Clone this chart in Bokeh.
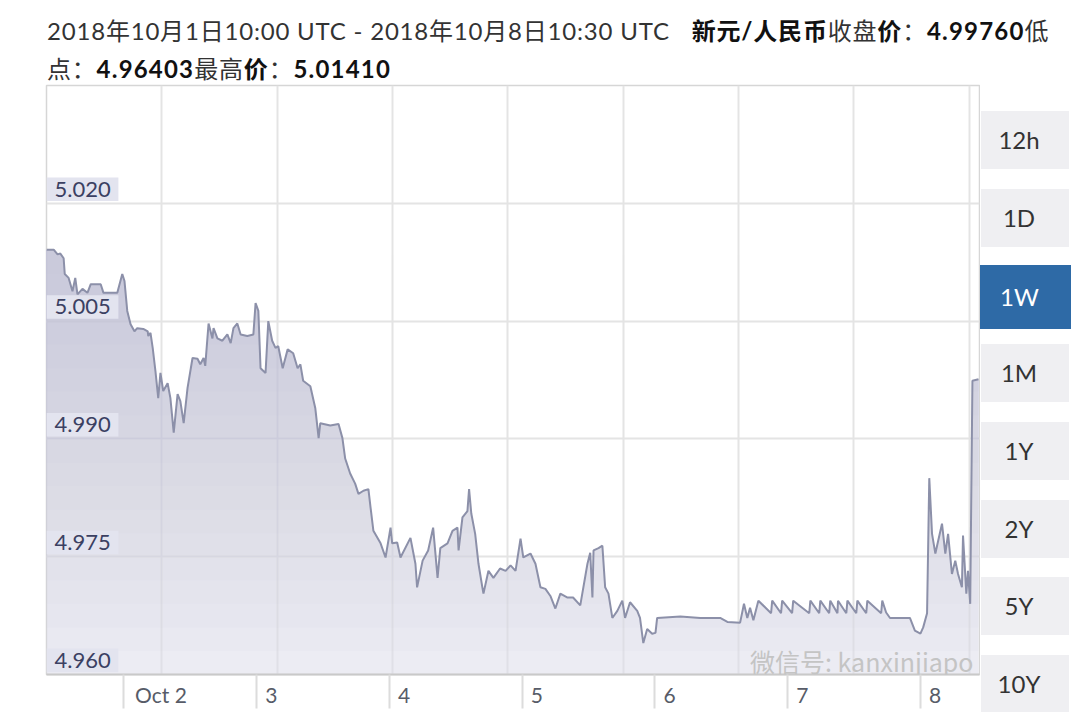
import numpy as np
from bokeh.plotting import figure
from bokeh.models import (Range1d, FixedTicker, LinearAxis, Grid, Div, Label,
                          CustomJSTickFormatter)
from bokeh.layouts import column, row
from bokeh.embed import file_html
from bokeh.resources import INLINE
from bokeh.core.properties import value

# ---------------- data ----------------
hours_since_start = [
    0.0, 1.3, 2.0, 2.5, 3.1, 3.3, 4.0, 4.7, 5.2, 5.6, 6.5, 7.4, 8.0, 8.9, 9.8, 10.3,
    12.8, 13.7, 14.1, 14.6, 15.2, 15.9, 16.4, 17.5, 18.3, 18.4, 18.8, 19.2, 19.7, 20.2,
    20.6, 21.1, 21.9, 22.4, 23.0, 23.7, 24.2, 24.8, 25.5, 26.4, 27.3, 27.8, 28.4, 28.7,
    29.3, 30.0, 30.2, 30.9, 31.8, 32.7, 33.3, 33.8, 34.5, 35.1, 36.3, 37.4, 37.8, 38.3,
    38.7, 39.6, 40.1, 40.8, 41.4, 41.9, 42.7, 43.6, 44.6, 45.4, 45.9, 46.4, 47.7, 48.6,
    49.2, 49.5, 51.3, 52.8, 53.5, 54.0, 54.9, 55.8, 56.4, 57.3, 58.2, 58.6, 59.1, 60.4,
    61.3, 62.2, 62.5, 63.4, 64.0, 65.8, 66.7, 67.0, 68.0, 69.0, 69.9, 70.7, 71.2, 72.5,
    73.4, 74.3, 74.5, 75.2, 76.1, 76.4, 76.8, 77.5, 78.1, 78.8, 79.0, 79.9, 80.8, 82.0,
    83.0, 83.9, 84.8, 85.7, 86.2, 87.5, 88.4, 89.3, 90.2, 91.1, 92.0, 92.9, 94.2, 95.2,
    96.5, 97.8, 98.3, 98.7, 98.9, 99.8, 100.5, 101.0, 101.6, 102.3, 103.2, 104.1, 104.6,
    105.5, 106.8, 107.3, 107.9, 108.6, 109.5, 110.1, 110.4, 114.6, 118.2, 121.8, 123.1,
    125.4, 126.1, 126.7, 127.2, 127.8, 128.7, 131.0, 131.2, 132.8, 133.0, 134.8, 135.0,
    137.9, 138.1, 139.7, 139.9, 141.5, 141.7, 143.0, 143.1, 144.6, 144.8, 146.4, 146.6,
    148.2, 148.4, 150.9, 151.1, 151.8, 152.5, 156.1, 157.0, 158.0, 158.5, 159.2, 159.6,
    160.1, 160.7, 161.2, 161.9, 162.5, 163.0, 163.7, 164.3, 164.8, 165.5, 165.7, 166.3,
    166.6, 167.0, 167.4, 168.5,
]
sgd_cny = [
    5.0141, 5.0141, 5.0135, 5.0136, 5.0130, 5.0110, 5.0105, 5.0088, 5.0105, 5.0084,
    5.0091, 5.0086, 5.0097, 5.0097, 5.0097, 5.0086, 5.0086, 5.0110, 5.0101, 5.0063,
    5.0046, 5.0037, 5.0041, 5.0040, 5.0037, 5.0031, 5.0035, 5.0016, 4.9986, 4.9952,
    4.9984, 4.9961, 4.9971, 4.9952, 4.9908, 4.9957, 4.9948, 4.9920, 4.9965, 5.0003,
    5.0002, 4.9995, 5.0003, 4.9993, 5.0047, 5.0028, 5.0041, 5.0028, 5.0025, 5.0033,
    5.0022, 5.0041, 5.0047, 5.0033, 5.0031, 5.0033, 5.0073, 5.0063, 4.9990, 4.9984,
    5.0050, 5.0025, 5.0016, 5.0018, 4.9990, 5.0014, 5.0009, 4.9990, 4.9995, 4.9974,
    4.9967, 4.9939, 4.9901, 4.9920, 4.9917, 4.9919, 4.9901, 4.9875, 4.9856, 4.9843,
    4.9830, 4.9834, 4.9836, 4.9812, 4.9783, 4.9767, 4.9749, 4.9787, 4.9767, 4.9768,
    4.9749, 4.9774, 4.9741, 4.9711, 4.9745, 4.9758, 4.9787, 4.9723, 4.9761, 4.9767,
    4.9783, 4.9787, 4.9758, 4.9800, 4.9808, 4.9836, 4.9805, 4.9779, 4.9741, 4.9711,
    4.9703, 4.9732, 4.9723, 4.9735, 4.9732, 4.9739, 4.9732, 4.9773, 4.9749, 4.9754,
    4.9741, 4.9711, 4.9709, 4.9700, 4.9684, 4.9703, 4.9698, 4.9698, 4.9688, 4.9741,
    4.9755, 4.9698, 4.9758, 4.9761, 4.9764, 4.9711, 4.9703, 4.9672, 4.9681, 4.9694,
    4.9672, 4.9692, 4.9681, 4.9672, 4.9640, 4.9658, 4.9652, 4.9653, 4.9672, 4.9674,
    4.9672, 4.9672, 4.9667, 4.9666, 4.9690, 4.9672, 4.9685, 4.9669, 4.9694, 4.9678,
    4.9694, 4.9678, 4.9694, 4.9678, 4.9694, 4.9678, 4.9694, 4.9678, 4.9694, 4.9678,
    4.9694, 4.9678, 4.9694, 4.9678, 4.9694, 4.9678, 4.9694, 4.9678, 4.9694, 4.9678,
    4.9694, 4.9679, 4.9672, 4.9672, 4.9656, 4.9652, 4.9660, 4.9678, 4.9850, 4.9779,
    4.9754, 4.9770, 4.9792, 4.9754, 4.9779, 4.9728, 4.9745, 4.9728, 4.9711, 4.9777,
    4.9703, 4.9732, 4.9690, 4.9974, 4.9976,
]
y_tick_values = [4.960, 4.975, 4.990, 5.005, 5.020]
y_tick_labels = ["4.960", "4.975", "4.990", "5.005", "5.020"]
day_labels = ["Oct 2", "3", "4", "5", "6", "7", "8"]
day_midnight_hours = [14, 38, 62, 86, 110, 134, 158]   # 00:00 UTC, counted from Oct 1 10:00 UTC
range_text = "2018年10月1日10:00 UTC - 2018年10月8日10:30 UTC"
pair_text = "新元/人民币"
close_text = "4.99760"
low_text = "4.96403"
high_text = "5.01410"
button_labels = ["12h", "1D", "1W", "1M", "1Y", "2Y", "5Y", "10Y"]
active_button = "1W"
watermark_text = "微信号: kanxinjiapo"

# ---------------- layout constants (page px) ----------------
TITLE_H = 84
FIG_H = 628
MAIN_W = 980
SIDE_W = 98
ML, MR, MT = 46, 1, 1
FRAME_H = 589
MB = FIG_H - MT - FRAME_H
FRAME_W = MAIN_W - ML - MR
X_END_MIN = 168.68 * 60
MIN_PER_PX = X_END_MIN / FRAME_W
FL, FB = ML, TITLE_H + MT + FRAME_H      # frame left / bottom in page px

x = np.array(hours_since_start) * 60.0          # minutes since start
y = np.array(sgd_cny)

p = figure(width=MAIN_W, height=FIG_H, x_range=Range1d(0, X_END_MIN),
           y_range=Range1d(4.960, 5.035), x_axis_type=None, y_axis_type=None,
           output_backend="svg", toolbar_location=None,
           min_border_left=ML, min_border_right=MR, min_border_top=MT, min_border_bottom=MB)
p.outline_line_color = "#d6d6d6"
p.outline_line_width = 1.5
p.background_fill_color = "white"
p.border_fill_color = "white"

# grids
p.add_layout(Grid(dimension=0, ticker=FixedTicker(ticks=[k * 20.85 * 60 for k in range(1, 9)]),
                  grid_line_color="#e4e4e4", grid_line_width=2))
p.add_layout(Grid(dimension=1, ticker=FixedTicker(ticks=y_tick_values[1:]),
                  grid_line_color="#e4e4e4", grid_line_width=2))

# area with vertical gradient (layered)
p.varea(x=x, y1=np.full_like(y, 4.960), y2=y, fill_color="#dcdde9", fill_alpha=0.55)
for lev in np.arange(4.963, 5.0142, 0.003):
    p.varea(x=x, y1=np.full_like(y, lev), y2=np.maximum(y, lev),
            fill_color="#b2b5ce", fill_alpha=0.04)
p.line(x, y, line_color="#8c90a9", line_width=2)

# y tick labels inside plot
yv = np.array(y_tick_values)
p.quad(left=0, right=13 * 60, bottom=yv + 0.0003, top=yv + 0.0033,
       fill_color="#e3e4ef", line_color=None)
p.text(x=1.45 * 60, y=yv + 0.0018, text=y_tick_labels, text_font=value("Lato"),
       text_font_size="22px", text_color="#3b4062", text_baseline="middle", text_align="left")

# x axis: long tick at each midnight, day label just right of it
midnights = [h * 60 for h in day_midnight_hours]
label_ticks = [m + (9 + 5.6 * len(lbl)) * MIN_PER_PX for m, lbl in zip(midnights, day_labels)]
ax = LinearAxis(ticker=FixedTicker(ticks=label_ticks, minor_ticks=midnights),
                formatter=CustomJSTickFormatter(args=dict(labels=day_labels),
                                                code="return labels[index] ?? '';"),
                major_tick_out=0, major_tick_in=0, major_tick_line_color=None,
                minor_tick_out=34, minor_tick_in=0, minor_tick_line_color="#dcdcdc",
                minor_tick_line_width=2,
                axis_line_color="#c9c9c9", axis_line_width=2, major_label_standoff=-27,
                major_label_text_font="Lato", major_label_text_font_size="21px",
                major_label_text_color="#575c68")
p.add_layout(ax, "below")

# watermark, kept whole inside the chart
p.add_layout(Label(x=FRAME_W - 6, y=FB - 660, x_units="screen", y_units="screen",
                   text=watermark_text, text_align="right", text_baseline="middle",
                   text_font="Noto Sans CJK SC", text_font_size="25px", text_color="#c4c4c4"))

# ---------------- range selector panel (HTML) ----------------
btn_html = []
for k, lbl in enumerate(button_labels):
    t = 111 + 77.7 * k
    h, l, w = 58, 981, 88
    if lbl == active_button:
        t, h, l, w = t - 1, 64, 980, 91
        bg, fg = "#2e6aa6", "#ffffff"
    else:
        bg, fg = "#efeff2", "#333333"
    btn_html.append(
        f'<div style="position:absolute;left:{l - MAIN_W}px;top:{t - TITLE_H:.0f}px;'
        f'width:{w}px;height:{h}px;line-height:{h}px;background:{bg};color:{fg};'
        'box-sizing:border-box;padding-right:12px;text-align:center;">'
        f'{lbl}</div>')
side_html = ('<div style="position:relative;width:%dpx;height:%dpx;overflow:hidden;'
             'font-family:Lato,sans-serif;font-size:24px;background:#fff;">%s</div>'
             % (SIDE_W, FIG_H, "".join(btn_html)))
side = Div(text=side_html, width=SIDE_W, height=FIG_H, margin=0)

# ---------------- title ----------------
title_html = (
    '<div style="font-family:Lato,\'Noto Sans CJK SC\',sans-serif;font-size:24px;'
    f'line-height:38px;color:#333;height:{TITLE_H}px;box-sizing:border-box;overflow:hidden;'
    'padding:12px 0 0 47px;margin:0;white-space:nowrap;letter-spacing:0.8px;">'
    f'{range_text}<span style="display:inline-block;width:22px"></span>'
    f'<b style="color:#111">{pair_text}</b>收盘<b style="color:#111">价</b>：'
    f'<b style="color:#111;letter-spacing:1.2px">{close_text}</b>低<br>'
    f'点：<b style="color:#111;letter-spacing:1.2px">{low_text}</b>最高<b style="color:#111">价</b>：'
    f'<b style="color:#111;letter-spacing:1.2px">{high_text}</b></div>'
)
div = Div(text=title_html, width=MAIN_W + SIDE_W, height=TITLE_H, margin=0)

layout = column(div, row(p, side, spacing=0), spacing=0)
open("out.html", "w").write(file_html(layout, INLINE))
